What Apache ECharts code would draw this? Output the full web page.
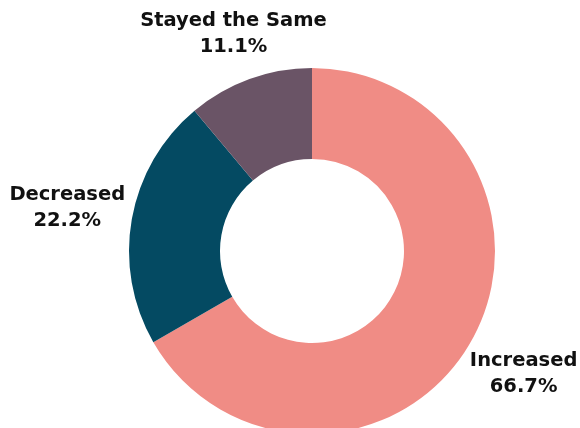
<!DOCTYPE html>
<html>
<head>
<meta charset="utf-8">
<script src="https://cdn.jsdelivr.net/npm/echarts@6/dist/echarts.min.js"></script>
<style>
  html, body { margin: 0; padding: 0; background: #fff; }
  #chart { width: 580px; height: 428px; }
</style>
</head>
<body>
<div id="chart"></div>
<script>
const categories = ["Increased", "Decreased", "Stayed the Same"];
const shares = [66.7, 22.2, 11.1];
const colors = ["#F08C85", "#044A62", "#6A5466"];

const myChart = echarts.init(document.getElementById("chart"));
myChart.setOption({
  animation: false,
  series: [
    {
      // the visible donut
      type: "pie",
      center: [312, 251],
      radius: [92, 183],
      startAngle: 90,
      clockwise: true,
      silent: true,
      label: { show: false },
      labelLine: { show: false },
      data: categories.map((name, i) => ({
        name,
        value: shares[i],
        itemStyle: { color: colors[i] },
      })),
    },
    {
      // invisible ring, only used to place the labels around the donut
      type: "pie",
      center: [312, 251],
      radius: [183, 300],
      startAngle: 90,
      clockwise: true,
      silent: true,
      itemStyle: { color: "rgba(0,0,0,0)" },
      labelLine: { show: false },
      label: {
        show: true,
        position: "inside",
        color: "#111",
        fontFamily: "DejaVu Sans",
        fontWeight: "bold",
        fontSize: 19.5,
        lineHeight: 26,
        formatter: ({ name, value }) => `${name}\n${value.toFixed(1)}%`,
      },
      // nudge labels a little to match the original spots
      labelLayout: (params) => {
        if (params.dataIndex === 2) return { dx: 5, dy: 13 };
        if (params.dataIndex === 1) return { dx: -4 };
        return {};
      },
      data: categories.map((name, i) => ({ name, value: shares[i] })),
    },
  ],
});
</script>
</body>
</html>
